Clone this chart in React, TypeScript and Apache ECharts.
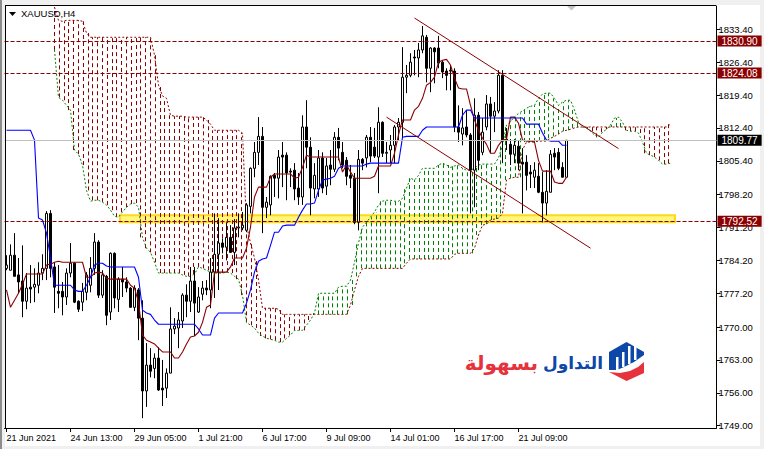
import React, { useEffect, useRef } from "react";
import * as echarts from "echarts";

const symbolName = "XAUUSD,H4";
const barCount = 178;
const xTickLabels = ["21 Jun 2021", "24 Jun 13:00", "29 Jun 05:00", "1 Jul 21:00", "6 Jul 17:00", "9 Jul 09:00", "14 Jul 01:00", "16 Jul 17:00", "21 Jul 09:00"];
const yTicks = [1833.4, 1826.4, 1819.4, 1812.4, 1805.4, 1798.2, 1791.2, 1784.2, 1777.2, 1770.0, 1763.0, 1756.0, 1749.0];
const resistanceLevels = [1830.9, 1824.08, 1792.52];
const lastPrice = 1809.77;

const opens = [
  1782.5,1782.1,1785.3,1781.1,1779.8,1775.5,1778.5,1778.5,1778.9,1781.5,
  1782.5,1794.2,1782.8,1777.6,1777.6,1776.4,1781.5,1783.6,1775.5,1775.3,
  1777.4,1778.9,1782.5,1788.1,1776.8,1780.8,1773.2,1785.7,1775.9,1780.2,
  1779.6,1778.3,1774.2,1777.9,1771.9,1756.4,1761.9,1761.2,1763.4,1757.0,
  1757.0,1760.2,1769.6,1769.8,1771.3,1776.8,1775.5,1779.8,1773.2,1777.0,
  1778.3,1777.9,1781.7,1785.5,1787.9,1787.0,1789.1,1785.9,1791.1,1791.1,
  1790.6,1795.7,1803.8,1807.2,1810.6,1795.5,1796.0,1802.3,1801.7,1806.6,
  1806.6,1803.2,1803.4,1799.6,1797.7,1812.6,1808.3,1799.4,1799.4,1806.0,
  1800.0,1804.5,1803.6,1810.4,1807.2,1805.5,1802.3,1801.7,1792.3,1805.7,
  1806.0,1810.4,1808.3,1806.2,1813.6,1807.0,1807.7,1808.7,1812.6,1813.6,
  1823.2,1823.6,1827.5,1827.3,1829.0,1831.7,1825.1,1829.4,1829.4,1826.4,
  1824.5,1824.7,1824.5,1812.6,1811.1,1812.6,1810.9,1803.4,1815.1,1807.2,
  1812.6,1817.5,1814.9,1816.0,1823.6,1809.8,1808.9,1806.8,1808.5,1805.1,
  1805.1,1803.0,1801.9,1802.1,1798.7,1796.4,1798.7,1807.0,1807.2,1804.0,1801.9,
];
const closes = [
  1783.2,1785.3,1780.8,1779.6,1775.5,1778.3,1778.1,1779.1,1781.5,1782.5,
  1794.2,1782.5,1778.5,1777.2,1776.4,1781.5,1783.6,1775.3,1773.8,1777.6,
  1781.1,1782.5,1788.1,1776.8,1781.1,1772.5,1785.7,1776.2,1780.2,1779.6,
  1778.3,1774.2,1778.3,1771.9,1756.4,1761.9,1760.6,1763.4,1756.6,1756.6,
  1760.2,1769.6,1770.2,1771.5,1776.8,1775.5,1779.8,1775.1,1776.4,1778.3,
  1777.9,1781.7,1785.5,1787.9,1787.0,1789.1,1785.9,1791.1,1791.3,1791.7,
  1796.0,1803.8,1807.2,1810.6,1795.5,1796.6,1802.1,1801.7,1806.2,1806.2,
  1802.8,1803.0,1799.4,1797.7,1812.6,1808.3,1799.6,1802.3,1806.0,1799.6,
  1804.3,1803.6,1810.4,1808.1,1804.5,1802.1,1801.7,1792.3,1805.7,1804.9,
  1810.4,1806.4,1806.4,1813.6,1807.0,1807.2,1808.7,1812.6,1813.6,1823.2,
  1823.6,1826.4,1827.3,1829.0,1832.0,1825.1,1829.4,1828.6,1826.2,1824.3,
  1823.6,1824.5,1812.6,1811.5,1812.4,1810.9,1803.4,1815.1,1805.5,1811.5,
  1817.5,1814.9,1816.0,1823.6,1809.8,1810.0,1806.8,1808.7,1804.9,1804.7,
  1802.3,1802.6,1803.4,1798.7,1796.4,1798.9,1806.8,1806.2,1803.8,1801.9,1809.77,
];
const highs = [
  1785.3,1787.6,1790.0,1784.7,1787.4,1781.5,1783.2,1782.5,1783.8,1785.5,
  1794.7,1794.9,1783.8,1783.2,1779.6,1782.5,1787.9,1783.8,1775.7,1779.4,
  1781.7,1784.9,1790.0,1788.5,1782.1,1781.1,1785.9,1785.9,1780.6,1782.8,
  1780.6,1778.5,1778.9,1778.3,1775.7,1766.6,1765.5,1764.4,1765.7,1763.0,
  1761.2,1774.2,1771.9,1773.2,1777.2,1779.1,1782.8,1782.8,1778.5,1779.8,
  1780.0,1784.7,1794.2,1793.2,1788.9,1792.3,1791.7,1793.0,1794.2,1794.5,
  1796.4,1804.0,1809.4,1814.7,1812.6,1797.7,1802.3,1802.8,1807.7,1809.4,
  1807.2,1803.8,1804.9,1802.8,1815.1,1818.3,1810.4,1804.9,1807.7,1807.2,
  1806.0,1807.7,1811.5,1812.4,1809.4,1806.2,1804.5,1802.8,1807.7,1806.0,
  1810.9,1812.6,1812.4,1816.8,1813.8,1809.4,1810.9,1813.0,1814.5,1829.6,
  1825.8,1828.3,1829.0,1830.5,1834.1,1832.2,1829.6,1829.6,1832.0,1826.8,
  1825.1,1825.8,1825.1,1817.2,1816.6,1816.2,1811.3,1818.7,1815.8,1814.5,
  1819.4,1819.0,1817.9,1824.7,1824.7,1812.4,1810.0,1810.0,1809.8,1808.1,
  1806.6,1804.5,1805.1,1804.9,1803.0,1803.4,1807.7,1808.1,1808.1,1805.1,1809.8,
];
const lows = [
  1782.1,1782.1,1780.8,1777.2,1772.1,1773.8,1775.1,1775.3,1777.2,1780.0,
  1780.0,1780.6,1773.0,1774.0,1772.5,1774.7,1780.6,1775.1,1773.2,1773.4,
  1775.7,1777.4,1781.1,1776.2,1776.2,1770.4,1771.5,1774.0,1773.2,1776.4,
  1777.4,1774.2,1773.4,1767.2,1750.6,1753.0,1759.3,1759.1,1756.4,1753.2,
  1754.9,1760.2,1768.5,1765.5,1769.8,1772.1,1773.2,1768.1,1773.0,1775.7,
  1776.8,1774.0,1776.2,1777.9,1785.7,1784.2,1785.9,1783.2,1789.1,1790.6,
  1790.2,1794.2,1801.9,1804.5,1790.0,1793.2,1793.8,1797.7,1797.4,1799.8,
  1797.0,1799.8,1797.0,1796.0,1796.0,1803.8,1793.8,1797.4,1797.7,1798.5,
  1798.1,1800.2,1803.0,1805.5,1803.8,1800.2,1799.6,1791.9,1790.6,1803.4,
  1804.0,1805.1,1806.0,1798.5,1806.2,1804.9,1804.9,1804.9,1809.8,1810.4,
  1819.8,1823.2,1823.6,1823.2,1828.3,1822.1,1820.0,1821.9,1825.1,1823.0,
  1820.4,1820.4,1811.5,1809.4,1808.7,1810.4,1794.2,1795.5,1803.4,1806.6,
  1811.9,1807.0,1811.5,1815.5,1804.9,1807.7,1804.5,1804.9,1803.4,1794.2,
  1799.1,1799.6,1799.6,1798.5,1792.3,1793.8,1798.7,1803.4,1803.4,1801.9,1801.9,
];

const tenkan = [
  1777.9,1774.2,1775.7,1777.2,1779.1,1781.3,1781.3,1781.3,1781.3,1781.3,
  1783.2,1783.4,1783.8,1784.0,1783.8,1783.8,1783.8,1783.8,1783.8,1783.8,
  1780.6,1780.6,1781.5,1781.7,1781.5,1780.4,1780.2,1780.2,1780.2,1780.2,
  1780.2,1778.9,1778.3,1775.3,1768.3,1767.2,1766.8,1766.4,1765.5,1764.7,
  1764.7,1764.7,1763.4,1763.4,1764.7,1766.4,1767.9,1768.1,1768.9,1771.0,
  1774.2,1774.7,1781.7,1781.7,1781.7,1781.7,1782.8,1784.7,1784.7,1784.7,
  1786.8,1791.3,1797.7,1799.8,1799.8,1799.8,1801.9,1802.6,1802.6,1802.6,
  1802.6,1802.6,1801.7,1801.9,1804.0,1806.6,1806.2,1806.2,1806.2,1806.2,
  1806.2,1806.2,1806.2,1806.2,1803.0,1804.5,1803.0,1801.7,1801.7,1801.7,
  1801.7,1801.7,1802.1,1804.3,1804.3,1804.3,1804.3,1807.0,1810.9,1814.1,
  1814.1,1814.1,1816.2,1817.0,1818.7,1821.5,1822.1,1823.2,1826.4,1826.8,
  1827.0,1825.8,1823.0,1820.9,1820.7,1820.7,1817.2,1814.1,1811.9,1810.2,
  1808.9,1807.0,1807.0,1808.7,1809.8,1810.0,1814.7,1814.7,1813.4,1809.8,
  1809.6,1809.6,1809.4,1805.5,1803.2,1803.2,1803.2,1800.9,1800.6,1800.6,1801.9,
];
const kijun = [
  1811.9,1811.9,1811.9,1811.9,1811.9,1811.9,1811.9,1809.8,1793.2,1792.8,
  1790.0,1784.7,1778.9,1778.9,1778.9,1778.9,1778.9,1777.9,1777.6,1777.6,
  1778.9,1780.6,1783.2,1783.6,1783.6,1783.0,1782.8,1782.8,1782.8,1782.8,
  1782.8,1782.8,1782.8,1780.6,1773.6,1773.0,1772.7,1771.5,1770.6,1770.6,
  1770.6,1770.6,1770.6,1770.6,1770.6,1770.6,1770.6,1770.6,1769.6,1768.3,
  1768.3,1768.3,1771.9,1773.0,1773.0,1773.0,1773.0,1773.0,1773.0,1773.0,
  1775.1,1777.9,1781.7,1784.0,1784.5,1784.7,1787.4,1790.2,1790.2,1791.5,
  1791.7,1791.7,1791.7,1793.4,1794.9,1796.2,1796.2,1796.4,1799.1,1801.3,
  1801.5,1801.7,1802.1,1803.8,1804.3,1804.3,1804.3,1804.3,1804.3,1804.3,
  1804.7,1804.9,1804.9,1804.9,1804.9,1804.9,1804.9,1804.9,1804.9,1810.4,
  1810.6,1810.6,1810.6,1810.6,1811.9,1812.6,1812.6,1812.6,1812.6,1812.6,
  1812.6,1812.6,1812.6,1812.6,1815.1,1816.2,1816.2,1814.5,1814.5,1814.5,
  1814.5,1814.5,1814.5,1814.5,1814.5,1814.5,1814.5,1814.5,1814.5,1814.5,
  1813.2,1813.2,1813.2,1813.2,1811.3,1809.8,1809.6,1809.6,1809.6,1808.7,1808.7,
];

const spanStart = 12;
const spanA = [
  1829.0,1818.9,1818.3,1817.2,1816.2,1807.7,1806.8,1804.5,1799.1,1796.8,
  1797.0,1797.0,1796.6,1796.0,1794.9,1793.6,1793.4,1794.5,1795.5,1796.2,
  1796.4,1795.5,1789.1,1786.8,1785.9,1783.8,1781.5,1781.5,1781.5,1781.5,
  1781.5,1781.5,1781.1,1780.8,1780.8,1781.3,1782.8,1782.5,1782.1,1781.7,
  1781.5,1781.5,1781.5,1781.7,1781.5,1780.8,1780.2,1776.8,1771.0,1770.4,
  1769.8,1768.7,1768.1,1767.6,1767.4,1767.2,1766.8,1766.8,1767.6,1768.3,
  1769.3,1769.3,1769.3,1770.4,1771.5,1773.0,1777.2,1777.2,1777.2,1777.2,
  1777.2,1778.5,1778.7,1778.7,1780.0,1783.8,1787.9,1791.3,1792.3,1793.4,
  1794.5,1796.0,1796.8,1797.0,1797.0,1796.8,1796.8,1797.4,1799.6,1801.7,
  1801.3,1802.3,1803.8,1803.8,1803.8,1803.8,1804.5,1804.9,1804.5,1804.0,
  1804.3,1804.5,1803.8,1803.4,1803.4,1803.8,1804.5,1804.7,1804.7,1804.7,
  1804.7,1806.0,1808.7,1813.0,1813.8,1814.7,1815.5,1816.0,1816.6,1817.0,
  1817.2,1818.7,1819.6,1819.8,1819.8,1818.7,1817.2,1817.9,1818.3,1818.3,
  1816.2,1813.6,1812.6,1812.4,1811.7,1810.9,1810.4,1811.5,1812.1,1813.0,
  1814.5,1814.7,1813.6,1811.9,1811.7,1811.7,1811.3,1809.4,1807.0,1806.6,
  1806.2,1805.5,1804.7,1804.7,1804.9,
];
const spanB = [
  1838.1,1835.3,1835.1,1835.3,1835.3,1835.3,1835.3,1835.1,1832.6,1831.7,
  1831.7,1831.7,1831.7,1831.7,1831.7,1831.7,1831.7,1831.7,1831.7,1831.7,
  1831.7,1831.7,1831.7,1831.7,1831.7,1827.9,1821.5,1819.2,1818.7,1815.1,
  1814.9,1814.9,1814.9,1814.7,1814.7,1814.7,1814.7,1814.7,1814.1,1813.2,
  1811.9,1811.9,1811.9,1811.9,1811.9,1811.9,1811.9,1811.3,1791.7,1787.9,
  1784.7,1780.0,1774.0,1774.0,1774.0,1774.0,1773.8,1772.7,1772.7,1772.7,
  1772.7,1772.7,1772.7,1772.7,1772.7,1772.7,1772.7,1772.7,1772.7,1772.7,
  1772.7,1772.7,1772.7,1772.7,1774.7,1777.9,1780.8,1782.5,1782.5,1782.5,
  1782.5,1782.5,1782.5,1782.5,1782.5,1782.5,1782.5,1782.5,1783.6,1784.5,
  1784.5,1784.5,1784.5,1784.5,1784.5,1784.5,1784.5,1784.5,1784.5,1784.5,
  1785.5,1785.7,1785.7,1785.7,1785.7,1786.8,1789.6,1791.7,1791.9,1792.8,
  1793.0,1793.2,1794.2,1801.3,1801.7,1801.9,1801.9,1807.7,1809.4,1809.4,
  1809.4,1809.6,1809.6,1809.6,1810.2,1810.6,1811.1,1811.7,1811.9,1812.1,
  1812.4,1812.6,1812.6,1812.6,1812.6,1812.6,1812.6,1812.6,1812.6,1812.6,
  1812.6,1812.6,1812.6,1812.6,1812.6,1812.6,1812.6,1812.6,1812.6,1812.6,
  1812.6,1812.6,1812.6,1812.6,1813.2,
];

// [barIndex, price] pairs of the two hand-drawn channel lines
const upperChannel = [[102, 1835.8], [153, 1808.0]];
const lowerChannel = [[95, 1814.7], [146, 1786.8]];
// first bar, last bar, top price, bottom price of the highlighted zone
const zone = [28, 168, 1793.8, 1792.3];

const DARK_RED = "#8b0000";
const GREEN = "#008000";
const BLUE = "#0000ff";
const LOGO_BLUE = "#0d47a8";
const LOGO_RED = "#e5323c";
const FONT = '"Liberation Sans", Arial, sans-serif';

const categories = Array.from({ length: barCount }, (_, i) => `bar${i}`);
const candles = opens.map((o, i) => [o, closes[i], lows[i], highs[i]]);
const withIndex = (arr: number[], start = 0) => arr.map((v, i) => [i + start, v]);
const cloud = spanA.map((a, i) => [i + spanStart, a, spanB[i]]);
const isTickBar = (i: number) => i % 16 === 0 && i / 16 < xTickLabels.length;

function tagLabel(bg: string) {
  return {
    show: true,
    position: "end",
    distance: 1,
    formatter: (p: any) => Number(p.value).toFixed(2),
    backgroundColor: bg,
    color: "#ffffff",
    fontFamily: FONT,
    fontSize: 10,
    padding: [1, 4, 0, 4],
    lineHeight: 10,
  };
}

function buildOption() {
  return {
    animation: false,
    backgroundColor: "#f0f0f0",
    textStyle: { fontFamily: FONT },
    grid: { left: 4.5, top: 6, width: barCount * 4, height: 422, show: false },
    title: {
      text: symbolName,
      left: 21,
      top: 8,
      padding: 0,
      textStyle: { fontFamily: FONT, fontSize: 9.5, fontWeight: "normal", color: "#000000" },
    },
    xAxis: {
      type: "category",
      data: categories,
      boundaryGap: true,
      axisLine: { show: true, lineStyle: { color: "#000000", width: 1 } },
      axisTick: { show: true, length: 4, alignWithLabel: true, interval: (i: number) => isTickBar(i), lineStyle: { color: "#000000" } },
      axisLabel: {
        show: true,
        interval: (i: number) => isTickBar(i),
        formatter: (_v: string, i: number) => xTickLabels[i / 16] ?? "",
        align: "left",
        margin: 5,
        fontSize: 9,
        color: "#000000",
        fontFamily: FONT,
        hideOverlap: false,
      },
      splitLine: { show: false },
    },
    yAxis: {
      type: "value",
      position: "right",
      min: 1748.51,
      max: 1838.36,
      scale: true,
      axisLine: { show: true, lineStyle: { color: "#000000", width: 1 } },
      axisTick: { show: true, length: 4, customValues: yTicks, lineStyle: { color: "#000000" } },
      axisLabel: {
        show: true,
        customValues: yTicks,
        formatter: (v: number) => v.toFixed(2),
        margin: 2,
        fontSize: 9.5,
        color: "#000000",
        fontFamily: FONT,
        showMinLabel: true,
        showMaxLabel: true,
      },
      splitLine: { show: false },
    },
    graphic: [
      { type: "rect", z: -10, shape: { x: 5, y: 5, width: 755, height: 441 }, style: { fill: "#ffffff" } },
      { type: "rect", z: -9, shape: { x: 0, y: 0, width: 2, height: 449 }, style: { fill: "#8c8c8c" } },
      { type: "rect", z: 20, shape: { x: 5, y: 5, width: 711, height: 1 }, style: { fill: "#000000" } },
      { type: "rect", z: 20, shape: { x: 5, y: 5, width: 1, height: 424 }, style: { fill: "#000000" } },
      { type: "polygon", z: 20, shape: { points: [[9, 12], [16, 12], [12.5, 16]] }, style: { fill: "#000000" } },
      { type: "polygon", z: 20, shape: { points: [[567, 6], [576, 6], [571.5, 10.5]] }, style: { fill: "#c4c4c4" } },
      // brand mark
      { type: "polygon", z: 20, shape: { points: [[609, 352], [626.5, 342], [644, 352], [644, 355], [634, 362], [624, 367], [617, 370], [609, 370]] }, style: { fill: LOGO_BLUE } },
      { type: "rect", z: 21, shape: { x: 616, y: 357, width: 2.5, height: 13 }, style: { fill: "#ffffff" } },
      { type: "rect", z: 21, shape: { x: 622, y: 352, width: 2.5, height: 15 }, style: { fill: "#ffffff" } },
      { type: "rect", z: 21, shape: { x: 628, y: 346, width: 2.5, height: 18 }, style: { fill: "#ffffff" } },
      { type: "rect", z: 21, shape: { x: 634, y: 346, width: 2.5, height: 14 }, style: { fill: "#ffffff" } },
      { type: "polygon", z: 20, shape: { points: [[609, 372], [620, 373], [630, 371], [638, 367], [644, 362], [644, 373], [626.5, 381]] }, style: { fill: LOGO_RED } },
      { type: "text", z: 20, style: { x: 603, y: 363, text: "التداول", fill: LOGO_BLUE, font: 'bold 17px "DejaVu Sans"', textAlign: "right", textVerticalAlign: "middle" } },
      { type: "text", z: 20, style: { x: 538, y: 363, text: "بسهولة", fill: LOGO_RED, font: 'bold 20px "DejaVu Sans"', textAlign: "right", textVerticalAlign: "middle" } },
    ],
    series: [
      {
        type: "custom",
        name: "zone",
        z: 1,
        silent: true,
        data: [zone],
        encode: { x: [0, 1], y: [2, 3] },
        clip: false,
        renderItem: (_p: any, api: any) => {
          const a = api.coord([api.value(0), api.value(2)]);
          const b = api.coord([api.value(1), api.value(3)]);
          return {
            type: "rect",
            shape: { x: a[0] + 1.5, y: a[1], width: b[0] - a[0] - 5, height: b[1] - a[1] },
            style: { fill: "#fff77e", stroke: "#ffd91a", lineWidth: 2 },
          };
        },
      },
      {
        type: "custom",
        name: "cloud",
        z: 2,
        silent: true,
        data: cloud,
        encode: { x: 0, y: [1, 2] },
        renderItem: (_p: any, api: any) => {
          // the hatching has a pitch of about 4.8 px, not one per 4 px bar
          const idx = api.value(0);
          const k = Math.round(idx / 1.2);
          if (Math.round(k * 1.2) !== idx) return null;
          const a = api.coord([idx, api.value(1)]);
          const b = api.coord([idx, api.value(2)]);
          const x = Math.floor(a[0] + (k * 4.8 - idx * 4)) + 0.5;
          return {
            type: "line",
            shape: { x1: x, y1: Math.max(a[1], b[1]), x2: x, y2: Math.min(a[1], b[1]) },
            style: { stroke: api.value(1) >= api.value(2) ? GREEN : DARK_RED, lineWidth: 1, lineDash: [4, 3] },
          };
        },
      },
      {
        type: "line", name: "Senkou A", z: 2, silent: true, showSymbol: false,
        data: withIndex(spanA, spanStart),
        lineStyle: { color: GREEN, width: 1, type: [2, 2] },
      },
      {
        type: "line", name: "Senkou B", z: 2, silent: true, showSymbol: false,
        data: withIndex(spanB, spanStart),
        lineStyle: { color: DARK_RED, width: 1, type: [2, 2] },
      },
      {
        type: "line", name: "levels", z: 2, silent: true, showSymbol: false, data: [],
        markLine: {
          silent: true,
          animation: false,
          symbol: "none",
          data: [
            ...resistanceLevels.map((v) => ({
              yAxis: v,
              lineStyle: { color: DARK_RED, width: 1, type: [4, 2] },
              label: tagLabel(DARK_RED),
            })),
            { yAxis: lastPrice, lineStyle: { color: "#c0c0c0", width: 1, type: "solid" }, label: tagLabel("#000000") },
          ],
        },
      },
      {
        type: "candlestick",
        name: symbolName,
        z: 3,
        silent: true,
        barWidth: 2,
        data: candles,
        itemStyle: { color: "#ffffff", color0: "#000000", borderColor: "#000000", borderColor0: "#000000", borderWidth: 1 },
      },
      {
        type: "line", name: "Tenkan", z: 4, silent: true, showSymbol: false,
        data: withIndex(tenkan),
        lineStyle: { color: DARK_RED, width: 1.1 },
      },
      {
        type: "line", name: "Kijun", z: 4, silent: true, showSymbol: false,
        data: withIndex(kijun),
        lineStyle: { color: BLUE, width: 1.1 },
      },
      {
        type: "line", name: "Upper channel", z: 5, silent: true, showSymbol: false,
        data: upperChannel,
        lineStyle: { color: DARK_RED, width: 1 },
      },
      {
        type: "line", name: "Lower channel", z: 5, silent: true, showSymbol: false,
        data: lowerChannel,
        lineStyle: { color: DARK_RED, width: 1 },
      },
    ],
  };
}

export default function App() {
  const ref = useRef<HTMLDivElement>(null);
  useEffect(() => {
    const chart = echarts.init(ref.current!, undefined, { renderer: "svg", width: 764, height: 449 });
    chart.setOption(buildOption() as any);
    return () => chart.dispose();
  }, []);
  return <div ref={ref} style={{ position: "fixed", left: 0, top: 0, width: 764, height: 449 }} />;
}
